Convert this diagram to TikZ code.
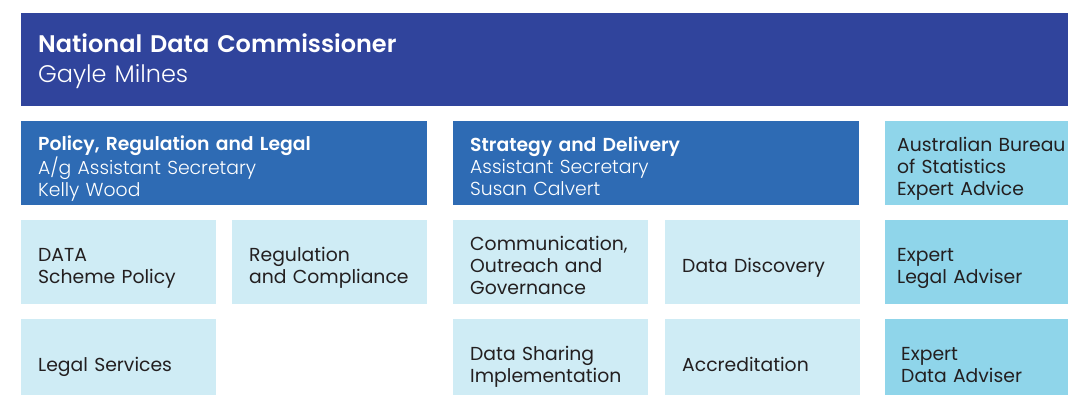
\documentclass[tikz,border=0pt]{standalone}
\usepackage{fontspec}
\IfFontExistsTF{Poppins SemiBold}{\setmainfont{Poppins}[BoldFont = Poppins SemiBold]}{\setmainfont{Poppins}}
\IfFontExistsTF{Poppins Light}{\newfontfamily\lightfont{Poppins Light}}{\newfontfamily\lightfont{Poppins}}
\definecolor{ndcnavy}{HTML}{30449C}
\definecolor{branchblue}{HTML}{2E6BB4}
\definecolor{unitfill}{HTML}{CFECF5}
\definecolor{advisorfill}{HTML}{8FD5EA}
\definecolor{unittext}{HTML}{231F20}
\tikzset{
  topbox/.style = {anchor = north west, fill = ndcnavy, text = white, minimum width = 1059, minimum height = 93, text width = 1025, inner xsep = 17, inner ysep = 0, align = left, font = \fontsize{24}{29.5}\selectfont, execute at begin node = {\rule{0pt}{22pt}}, execute at end node = {\rule[-6pt]{0pt}{6pt}}},
  branchbox/.style = {anchor = north west, fill = branchblue, text = white, minimum width = 406, minimum height = 84, text width = 372, inner xsep = 17, inner ysep = 0, align = left, font = \fontsize{18.8}{22.3}\selectfont, execute at begin node = {\rule{0pt}{26pt}}, execute at end node = {\rule[-5pt]{0pt}{5pt}}},
  unitbox/.style = {anchor = north west, fill = unitfill, text = unittext, minimum width = 195, minimum height = 84, text width = 161, inner xsep = 17, inner ysep = 0, align = left, font = \fontsize{18.8}{22.3}\selectfont, execute at begin node = {\rule{0pt}{26pt}}, execute at end node = {\rule[-5pt]{0pt}{5pt}}},
  advisorbox/.style = {unitbox, fill = advisorfill, text width = 171, inner xsep = 12}
}
\begin{document}
\begin{tikzpicture}[x = 1pt, y = -1pt]
\clip (0,0) rectangle (1068,395);
\fill [white] (0,0) rectangle (1068,395);
% commissioner
\node [topbox] (ndc) at (21,13) {\textbf{National Data Commissioner}\\{\lightfont Gayle Milnes}};
% branches
\node [branchbox] (prl) at (21,121) {\textbf{Policy, Regulation and Legal}\\{\lightfont A/g Assistant Secretary\\Kelly Wood}};
\node [branchbox] (sad) at (453,121) {\textbf{Strategy and Delivery}\\{\lightfont Assistant Secretary\\Susan Calvert}};
% sections
\foreach \nm/\x/\y/\txt in {dsp/21/220/{DATA\\Scheme Policy}, rac/232/220/{Regulation\\and~Compliance}, lgs/21/319/{Legal Services}, cog/453/220/{Communication,\\Outreach and\\Governance}, ddy/665/220/{Data Discovery}, dsi/453/319/{Data Sharing\\Implementation}, acc/665/319/{Accreditation}}
  \node [unitbox] (\nm) at (\x,\y) {\txt};
% advisers
\node [advisorbox] (abs) at (885,121) {Australian~Bureau\\of Statistics\\Expert Advice};
\node [advisorbox] (ela) at (885,220) {Expert\\Legal Adviser};
\node [advisorbox, text width = 163, inner xsep = 16] (eda) at (885,319) {Expert\\Data Adviser};
\end{tikzpicture}
\end{document}
